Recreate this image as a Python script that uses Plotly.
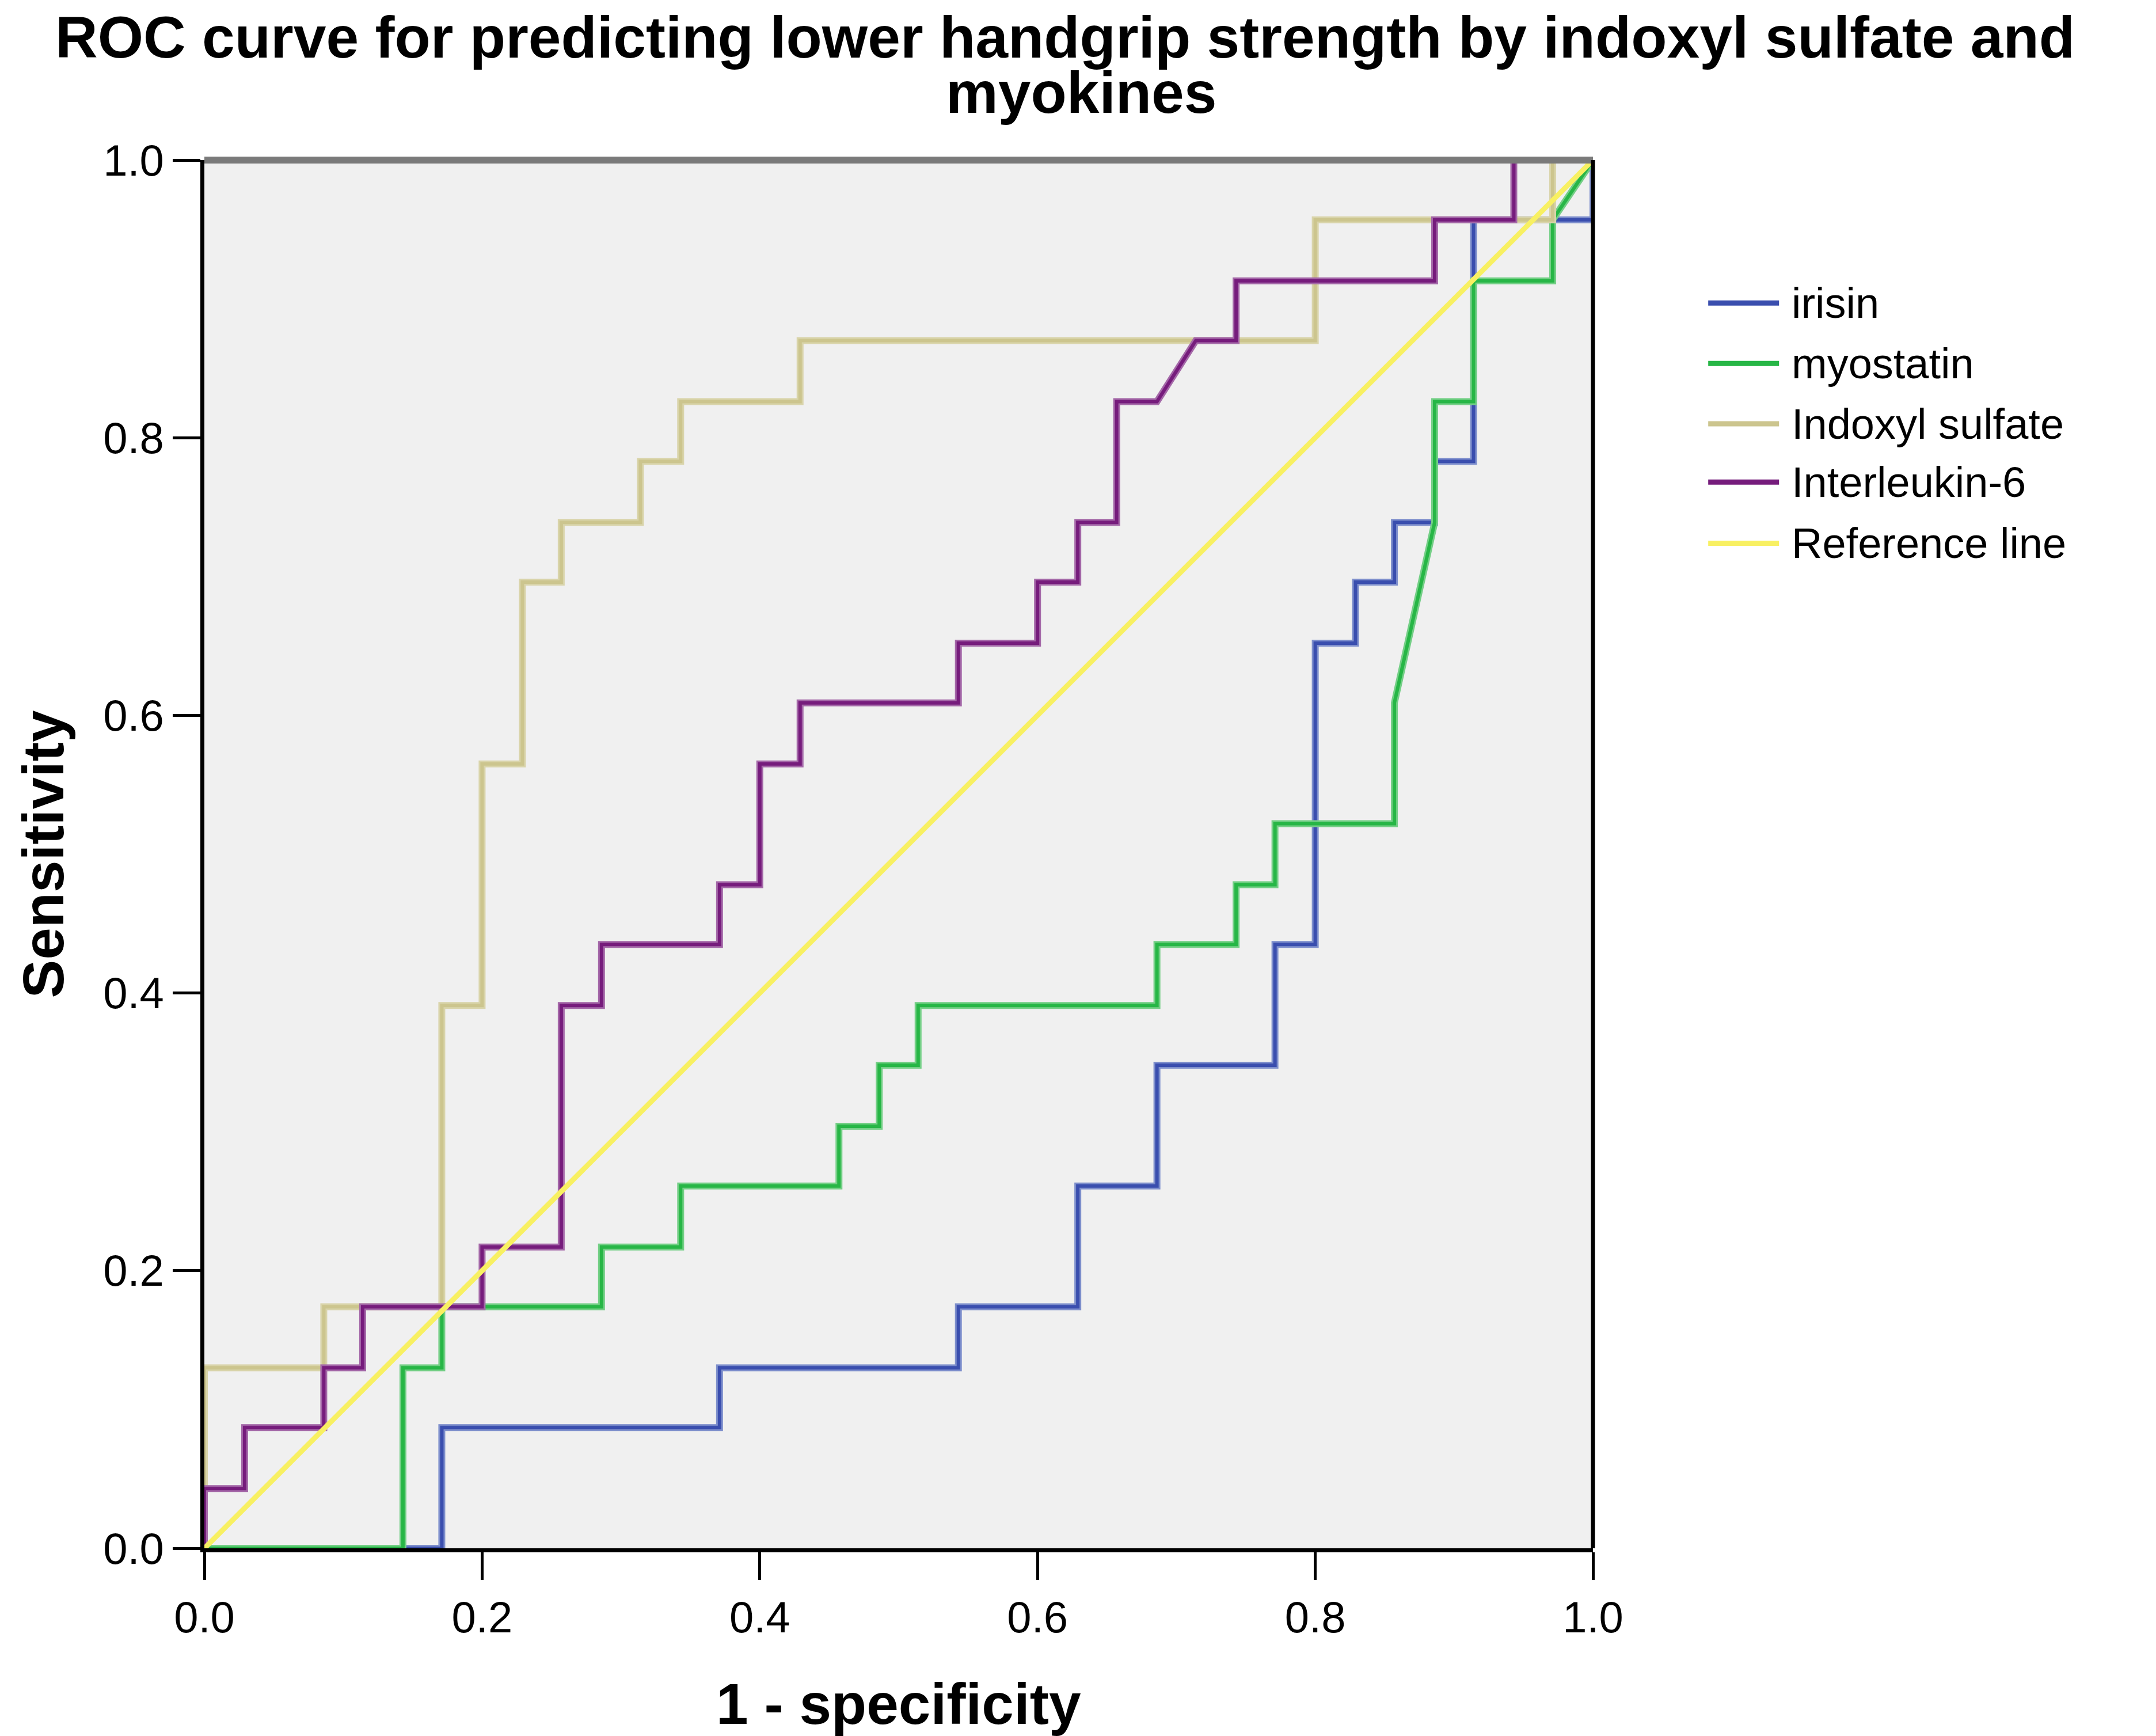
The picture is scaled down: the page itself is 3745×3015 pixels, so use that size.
import plotly.graph_objects as go

# ROC step curves (1 - specificity, sensitivity)
irisin_x = [0.0, 0.171, 0.171, 0.371, 0.371, 0.543, 0.543, 0.629, 0.629, 0.686, 0.686,
            0.771, 0.771, 0.800, 0.800, 0.829, 0.829, 0.857, 0.857, 0.886, 0.886,
            0.914, 0.914, 1.0, 1.0]
irisin_y = [0.0, 0.0, 0.087, 0.087, 0.130, 0.130, 0.174, 0.174, 0.261, 0.261, 0.348,
            0.348, 0.435, 0.435, 0.652, 0.652, 0.696, 0.696, 0.739, 0.739, 0.783,
            0.783, 0.957, 0.957, 1.0]

myostatin_x = [0.0, 0.143, 0.143, 0.171, 0.171, 0.286, 0.286, 0.343, 0.343, 0.457, 0.457,
               0.486, 0.486, 0.514, 0.514, 0.686, 0.686, 0.743, 0.743, 0.771, 0.771,
               0.857, 0.857, 0.886, 0.886, 0.914, 0.914, 0.971, 0.971, 1.0]
myostatin_y = [0.0, 0.0, 0.130, 0.130, 0.174, 0.174, 0.217, 0.217, 0.261, 0.261, 0.304,
               0.304, 0.348, 0.348, 0.391, 0.391, 0.435, 0.435, 0.478, 0.478, 0.522,
               0.522, 0.609, 0.739, 0.826, 0.826, 0.913, 0.913, 0.957, 1.0]

indoxyl_x = [0.0, 0.0, 0.086, 0.086, 0.171, 0.171, 0.200, 0.200, 0.229, 0.229, 0.257,
             0.257, 0.314, 0.314, 0.343, 0.343, 0.429, 0.429, 0.800, 0.800, 0.971,
             0.971, 1.0]
indoxyl_y = [0.0, 0.130, 0.130, 0.174, 0.174, 0.391, 0.391, 0.565, 0.565, 0.696, 0.696,
             0.739, 0.739, 0.783, 0.783, 0.826, 0.826, 0.870, 0.870, 0.957, 0.957,
             1.0, 1.0]

il6_x = [0.0, 0.0, 0.029, 0.029, 0.086, 0.086, 0.114, 0.114, 0.200, 0.200, 0.257, 0.257,
         0.286, 0.286, 0.371, 0.371, 0.400, 0.400, 0.429, 0.429, 0.543, 0.543, 0.600,
         0.600, 0.629, 0.629, 0.657, 0.657, 0.686, 0.714, 0.743, 0.743, 0.886, 0.886,
         0.943, 0.943, 1.0]
il6_y = [0.0, 0.043, 0.043, 0.087, 0.087, 0.130, 0.130, 0.174, 0.174, 0.217, 0.217, 0.391,
         0.391, 0.435, 0.435, 0.478, 0.478, 0.565, 0.565, 0.609, 0.609, 0.652, 0.652,
         0.696, 0.696, 0.739, 0.739, 0.826, 0.826, 0.870, 0.870, 0.913, 0.913, 0.957,
         0.957, 1.0, 1.0]

ref_x = [0.0, 1.0]
ref_y = [0.0, 1.0]

tick_vals = [0.0, 0.2, 0.4, 0.6, 0.8, 1.0]
tick_text = ["0.0", "0.2", "0.4", "0.6", "0.8", "1.0"]

series = [
    ("irisin", irisin_x, irisin_y, "#3a4eae", "#7e8fcc"),
    ("myostatin", myostatin_x, myostatin_y, "#27b646", "#74cf86"),
    ("Indoxyl sulfate", indoxyl_x, indoxyl_y, "#ccc58e", "#d9d4aa"),
    ("Interleukin-6", il6_x, il6_y, "#761c7c", "#a468a8"),
]

FONT = "Arial, Liberation Sans, sans-serif"

fig = go.Figure()

for name, xs, ys, core, halo in series:
    # SPSS style: soft wide stroke with a darker core
    fig.add_trace(go.Scatter(x=xs, y=ys, mode="lines", name=name, showlegend=False,
                             line=dict(color=halo, width=12), hoverinfo="skip"))
    fig.add_trace(go.Scatter(x=xs, y=ys, mode="lines", name=name, showlegend=False,
                             line=dict(color=core, width=6)))

fig.add_trace(go.Scatter(x=ref_x, y=ref_y, mode="lines", name="Reference line",
                         showlegend=False, line=dict(color="#f8f062", width=9)))

axis_common = dict(
    range=[0, 1],
    tickvals=tick_vals,
    ticktext=tick_text,
    showgrid=False,
    zeroline=False,
    showline=True,
    linecolor="black",
    linewidth=7,
    ticks="outside",
    ticklen=48,
    tickwidth=5,
    tickcolor="black",
    tickfont=dict(family=FONT, size=76, color="black"),
)

fig.update_layout(
    width=3745,
    height=3015,
    margin=dict(l=347, r=986, t=270, b=334),
    paper_bgcolor="white",
    plot_bgcolor="#f0f0f0",
    xaxis=axis_common,
    yaxis=axis_common,
    showlegend=False,
)

# top and right frame of the plot area
fig.add_shape(type="line", xref="paper", yref="paper", x0=0, x1=1, y0=1, y1=1,
              line=dict(color="#7a7a7a", width=12))
fig.add_shape(type="line", xref="paper", yref="paper", x0=1, x1=1, y0=0, y1=1,
              line=dict(color="black", width=7))

annotations = [
    dict(text="<b>ROC curve for predicting lower handgrip strength by indoxyl sulfate and</b>",
         x=0.620, y=1.0884, font=dict(size=102)),
    dict(text="<b>myokines</b>", x=0.6316, y=1.0485, font=dict(size=102)),
    dict(text="<b>1 - specificity</b>", x=0.5, y=-0.112, font=dict(size=100)),
    dict(text="<b>Sensitivity</b>", x=-0.1165, y=0.5, textangle=-90, font=dict(size=100)),
]

# legend drawn by hand so the line samples match the original length
legend_names = [s[0] for s in series] + ["Reference line"]
legend_colors = [s[3] for s in series] + ["#f8f062"]
legend_y = [0.897, 0.8535, 0.810, 0.768, 0.724]
for name, color, ly in zip(legend_names, legend_colors, legend_y):
    fig.add_shape(type="line", xref="paper", yref="paper", x0=1.083, x1=1.134,
                  y0=ly, y1=ly, line=dict(color=color, width=9))
    annotations.append(dict(text=name, x=1.142, y=ly, xanchor="left",
                            font=dict(size=74)))

for a in annotations:
    a.setdefault("xanchor", "center")
    a.update(xref="paper", yref="paper", yanchor="middle", showarrow=False)
    a["font"] = dict(family=FONT, color="black", **a["font"])

fig.update_layout(annotations=annotations)

fig.write_html("out.html")
